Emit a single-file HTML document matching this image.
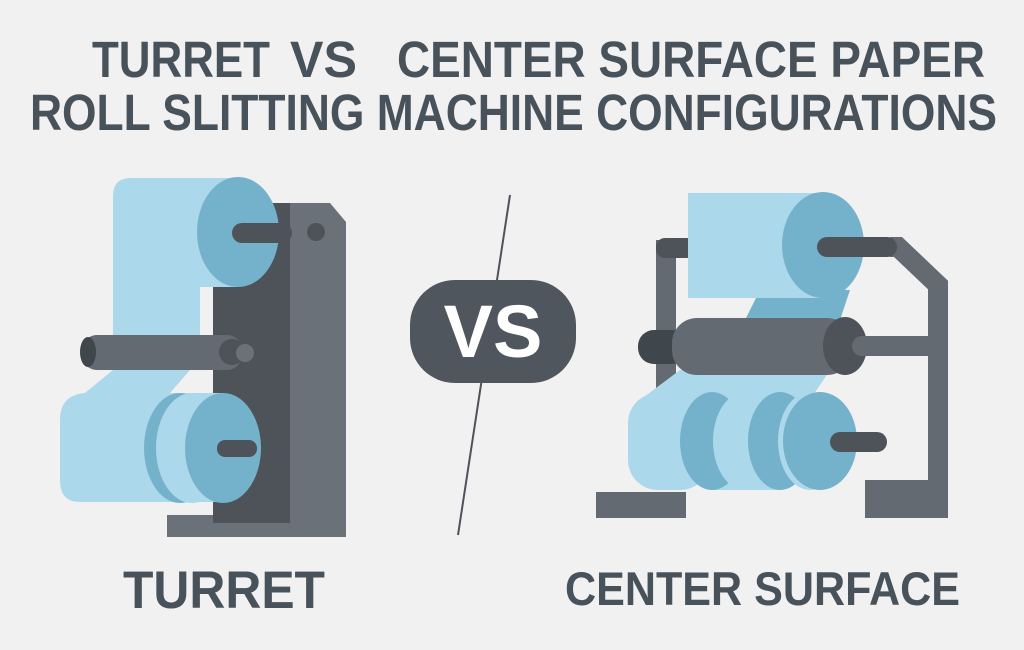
<!DOCTYPE html>
<html><head><meta charset="utf-8"><style>
html,body{margin:0;padding:0;background:#f1f1f1;}
svg{display:block}
text{font-family:"Liberation Sans",sans-serif;font-weight:bold;fill:#48525a}
</style></head><body>
<svg width="1024" height="650" viewBox="0 0 1024 650" xmlns="http://www.w3.org/2000/svg">
<rect width="1024" height="650" fill="#f1f1f1"/>
<text x="92" y="77" font-size="51" textLength="178" lengthAdjust="spacingAndGlyphs">TURRET</text>
<text x="290" y="77" font-size="51" textLength="67" lengthAdjust="spacingAndGlyphs">VS</text>
<text x="397" y="77" font-size="51" textLength="588" lengthAdjust="spacingAndGlyphs">CENTER SURFACE PAPER</text>
<text x="30" y="130" font-size="51" textLength="967" lengthAdjust="spacingAndGlyphs">ROLL SLITTING MACHINE CONFIGURATIONS</text>

<!-- TURRET -->
<rect x="167" y="515" width="179" height="22" fill="#6b7178"/>
<rect x="213" y="203" width="80" height="320" fill="#4d5359"/>
<polygon points="290,203 330,203 346,222 346,537 290,537" fill="#6b7178"/>
<circle cx="316" cy="232" r="9" fill="#4d5359"/>
<path d="M113,300 L113,196 Q113,178 131,178 L238,178 L238,287 L200,287 L200,335 L113,335 Z" fill="#acd8ec"/>
<ellipse cx="238" cy="232" rx="41" ry="55" fill="#74b2cb"/>
<rect x="232" y="223" width="60" height="20" rx="10" fill="#4d5359"/>
<path d="M113,370 L190,370 L170,393 L223,393 L223,502 L80,502 Q60,502 60,480 L60,420 Q60,395 85,393 Z" fill="#acd8ec"/>
<ellipse cx="180" cy="448" rx="36" ry="55" fill="#74b2cb"/>
<ellipse cx="192" cy="448" rx="36" ry="55" fill="#acd8ec"/>
<ellipse cx="223" cy="448" rx="38" ry="55" fill="#74b2cb"/>
<rect x="217" y="440" width="40" height="17" rx="8" fill="#4d5359"/>
<rect x="82" y="335" width="160" height="35" rx="15" fill="#636a71"/>
<ellipse cx="88" cy="352" rx="8" ry="15" fill="#3f464c"/>
<circle cx="232" cy="352" r="13" fill="#4d5359"/>
<circle cx="245" cy="353" r="9" fill="#6b7178"/>

<!-- VS -->
<line x1="510" y1="195" x2="458" y2="535" stroke="#4d5359" stroke-width="2"/>
<rect x="410" y="280" width="166" height="103" rx="45" fill="#4f565d"/>
<text x="493" y="357" font-size="74" text-anchor="middle" style="fill:#fff">VS</text>

<!-- CENTER SURFACE -->
<rect x="596" y="492" width="90" height="26" fill="#636a71"/>
<rect x="865" y="480" width="83" height="38" fill="#636a71"/>
<rect x="656" y="240" width="20" height="160" fill="#636a71"/>
<rect x="656" y="238" width="40" height="20" rx="9" fill="#4d5359"/>
<polyline points="890,247 898,247 938,285 938,492" fill="none" stroke="#636a71" stroke-width="20"/>
<polygon points="760,290 850,290 840,320 745,320" fill="#74b2cb"/>
<rect x="688" y="193" width="135" height="105" fill="#acd8ec"/>
<ellipse cx="823" cy="245" rx="41" ry="53" fill="#74b2cb"/>
<rect x="817" y="237" width="80" height="20" rx="10" fill="#4d5359"/>
<polygon points="680,370 830,370 810,400 640,400" fill="#acd8ec"/>
<rect x="628" y="393" width="82" height="97" rx="30" fill="#acd8ec"/>
<rect x="712" y="393" width="68" height="97" fill="#acd8ec"/>
<ellipse cx="712" cy="441" rx="32" ry="49" fill="#74b2cb"/>
<ellipse cx="745" cy="441" rx="32" ry="49" fill="#acd8ec"/>
<rect x="745" y="393" width="35" height="97" fill="#acd8ec"/>
<ellipse cx="780" cy="441" rx="32" ry="49" fill="#74b2cb"/>
<ellipse cx="810" cy="441" rx="32" ry="49" fill="#acd8ec"/>
<ellipse cx="820" cy="441" rx="37" ry="49" fill="#74b2cb"/>
<rect x="830" y="432" width="57" height="20" rx="10" fill="#4d5359"/>
<rect x="850" y="336" width="90" height="20" fill="#636a71"/>
<rect x="638" y="330" width="50" height="34" rx="16" fill="#3f464c"/>
<rect x="672" y="318" width="180" height="57" rx="25" fill="#636a71"/>
<ellipse cx="845" cy="346" rx="22" ry="29" fill="#4d5359"/>
<rect x="852" y="336" width="80" height="20" rx="10" fill="#636a71"/>

<text x="123" y="608" font-size="53" textLength="202" lengthAdjust="spacingAndGlyphs">TURRET</text>
<text x="565" y="605" font-size="47" textLength="395" lengthAdjust="spacingAndGlyphs">CENTER SURFACE</text>
</svg>
</body></html>
